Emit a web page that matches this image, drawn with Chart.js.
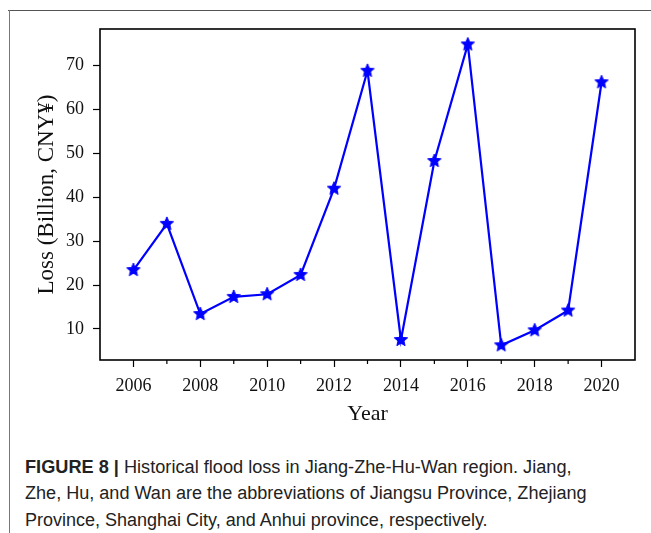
<!DOCTYPE html>
<html>
<head>
<meta charset="utf-8">
<script src="https://cdn.jsdelivr.net/npm/chart.js@4"></script>
<style>
  body { margin: 0; background: #fff; width: 651px; height: 533px; overflow: hidden; position: relative; }
  #frameTop { position: absolute; left: 8px; top: 10px; width: 643px; height: 1px; background: #555; }
  #frameLeft { position: absolute; left: 9px; top: 10px; width: 1px; height: 523px; background: #777; }
  #wrap { position: absolute; left: 0; top: 0; width: 651px; height: 440px; }
  .cap { position: absolute; left: 25px; font-family: "Liberation Sans", Arial, sans-serif; font-size: 18px;
         color: #222; white-space: nowrap; transform-origin: 0 50%; line-height: 26px; }
</style>
</head>
<body>
<div id="frameTop"></div>
<div id="frameLeft"></div>
<div id="wrap"><canvas id="chart" width="651" height="440"></canvas></div>
<div class="cap" id="cap1" style="top:454px"><b>FIGURE 8 |</b> Historical flood loss in Jiang-Zhe-Hu-Wan region. Jiang,</div>
<div class="cap" id="cap2" style="top:480px">Zhe, Hu, and Wan are the abbreviations of Jiangsu Province, Zhejiang</div>
<div class="cap" id="cap3" style="top:507px">Province, Shanghai City, and Anhui province, respectively.</div>
<script>
// data
const years = [2006, 2007, 2008, 2009, 2010, 2011, 2012, 2013, 2014, 2015, 2016, 2017, 2018, 2019, 2020];
const loss = [23.4, 33.9, 13.4, 17.3, 17.9, 22.3, 41.9, 68.7, 7.5, 48.2, 74.7, 6.3, 9.7, 14.2, 66.1];
const xTickLabels = [2006, 2008, 2010, 2012, 2014, 2016, 2018, 2020];
const yTickLabels = [10, 20, 30, 40, 50, 60, 70];

// filled five point star like matplotlib's '*' marker
function makeStar(r, color) {
  const c = document.createElement('canvas');
  const s = Math.ceil(r * 2 + 4);
  c.width = s; c.height = s;
  const g = c.getContext('2d');
  g.translate(s / 2, s / 2);
  g.beginPath();
  for (let i = 0; i < 10; i++) {
    const rad = i % 2 === 0 ? r : r * 0.45;
    const a = -Math.PI / 2 + i * Math.PI / 5;
    g.lineTo(rad * Math.cos(a), rad * Math.sin(a));
  }
  g.closePath();
  g.fillStyle = color;
  g.strokeStyle = color;
  g.lineWidth = 1;
  g.fill();
  g.stroke();
  return c;
}

// box around the plot and the short minor ticks on odd years
const boxPlugin = {
  id: 'box',
  afterDraw(chart) {
    const { ctx, chartArea: a, scales } = chart;
    ctx.save();
    ctx.strokeStyle = '#000';
    ctx.lineWidth = 1.6;
    ctx.strokeRect(a.left, a.top, a.right - a.left, a.bottom - a.top);
    ctx.lineWidth = 1.2;
    ctx.beginPath();
    years.filter(y => y % 2 === 1).forEach(y => {
      const px = scales.x.getPixelForValue(y);
      ctx.moveTo(px, a.bottom);
      ctx.lineTo(px, a.bottom + 4);
    });
    ctx.stroke();
    ctx.restore();
  }
};

const serif = '"Liberation Serif", "Times New Roman", serif';

new Chart(document.getElementById('chart'), {
  type: 'line',
  data: {
    datasets: [{
      data: years.map((y, i) => ({ x: y, y: loss[i] })),
      borderColor: '#0000ff',
      backgroundColor: '#0000ff',
      borderWidth: 2.2,
      pointStyle: makeStar(7, '#0000ff'),
      tension: 0
    }]
  },
  options: {
    responsive: false,
    animation: false,
    layout: { padding: { left: 0, right: 16, top: 29, bottom: 0 } },
    plugins: { legend: { display: false }, tooltip: { enabled: false } },
    scales: {
      x: {
        type: 'linear',
        min: 2005, max: 2021,
        afterBuildTicks: s => { s.ticks = xTickLabels.map(v => ({ value: v })); },
        afterFit: s => { s.height = 80; },
        grid: { drawOnChartArea: false, tickLength: 7, tickColor: '#000', tickWidth: 1.2 },
        border: { display: false },
        ticks: { color: '#111', font: { family: serif, size: 18 }, padding: 8, maxRotation: 0,
                 callback: v => String(v) },
        title: { display: true, text: 'Year', color: '#111', font: { family: serif, size: 22 }, padding: { top: 2, bottom: 13 } }
      },
      y: {
        min: 2.95, max: 78.2,
        afterBuildTicks: s => { s.ticks = yTickLabels.map(v => ({ value: v })); },
        afterFit: s => { s.width = 100; },
        grid: { drawOnChartArea: false, tickLength: 7, tickColor: '#000', tickWidth: 1.2 },
        border: { display: false },
        ticks: { color: '#111', font: { family: serif, size: 18 }, padding: 9 },
        title: { display: true, text: 'Loss (Billion, CNY¥)', color: '#111', font: { family: serif, size: 23 }, padding: { top: 33, bottom: 0 } }
      }
    }
  },
  plugins: [boxPlugin]
});

// squeeze caption lines to the condensed width of the original
const capWidths = { cap1: 547, cap2: 562, cap3: 463 };
Object.keys(capWidths).forEach(id => {
  const el = document.getElementById(id);
  el.style.transform = 'scaleX(' + (capWidths[id] / el.scrollWidth) + ')';
});
</script>
</body>
</html>
